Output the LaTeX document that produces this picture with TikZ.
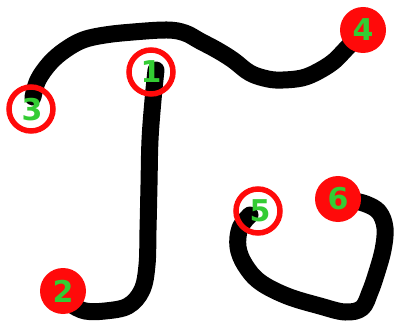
\documentclass[tikz,border=0pt]{standalone}
\usepackage{fontspec}
\setsansfont{DejaVu Sans}
\usepackage{xcolor}
\definecolor{markred}{HTML}{FF0A0A}
\definecolor{markgreen}{HTML}{33CC33}
\usepackage{tikz}
\usetikzlibrary{calc}

\begin{document}
\begin{tikzpicture}[x=1pt, y=-1pt,
    ink/.style={line width=17pt, line cap=round, line join=round, black},
    ring/.style={circle, draw=markred, line width=5.5pt, minimum size=44pt, inner sep=0pt},
    dot/.style={circle, fill=markred, minimum size=46pt, inner sep=0pt},
    digit/.style={font=\sffamily\bfseries\fontsize{30}{30}\selectfont, text=markgreen}]

  \useasboundingbox (0,0) rectangle (399,326);

  % stroke ends
  \coordinate (tip1) at (156,70);
  \coordinate (tip2) at (72,305);
  \coordinate (tip3) at (33,97);
  \coordinate (tip4) at (358,36);
  \coordinate (tip5) at (250,215);
  \coordinate (tip6) at (350,200);

  % strokes
  \draw[ink] plot[smooth, tension=0.6] coordinates {(tip1) (153,100) (150,140) (149,185)
    (148,230) (147,265) (142,290) (128,306) (105,311) (85,311) (tip2)};
  \draw[ink] plot[smooth, tension=0.6] coordinates {(tip3) (38,80) (50,63) (65,50) (83,40)
    (105,35) (133,32) (167,30) (185,33) (200,41) (217,50) (233,60) (250,73) (268,79)
    (283,80) (302,78) (317,72) (333,62) (345,50) (tip4)};
  \draw[ink] plot[smooth, tension=0.6] coordinates {(tip5) (240,228) (238,247) (245,265)
    (260,282) (287,296) (320,306) (345,312) (362,308) (370,292) (376,275) (383,250)
    (385,228) (379,212) (366,204) (tip6)};

  % markers
  \node[ring] (m1) at (151,72) {};
  \node[dot] (m2) at (63,291) {};
  \node[ring] (m3) at (31,109) {};
  \node[dot] (m4) at (363,30) {};
  \node[ring] (m5) at (258,211) {};
  \node[dot] (m6) at (338,199) {};

  % labels
  \node[digit] (l1) at (m1) {1};
  \node[digit] (l2) at (m2) {2};
  \node[digit] (l3) at ($(m3)+(1,1)$) {3};
  \node[digit] (l4) at (m4) {4};
  \node[digit] (l5) at ($(m5)+(2,0)$) {5};
  \node[digit] (l6) at (m6) {6};

\end{tikzpicture}
\end{document}
